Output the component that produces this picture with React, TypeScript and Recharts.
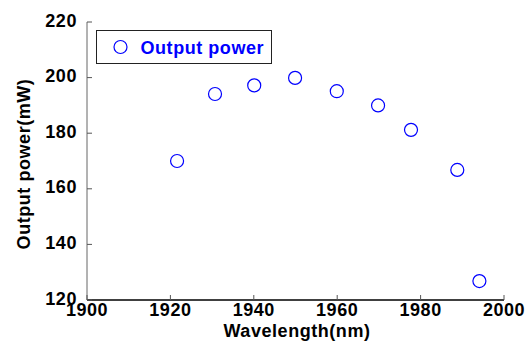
import { ScatterChart, Scatter, XAxis, YAxis, Legend, Label } from "recharts"

const wavelength = [1921.6, 1930.7, 1940.1, 1949.9, 1959.9, 1969.8, 1977.7, 1988.8, 1994.1]
const outputPower = [170, 194.1, 197.2, 199.9, 195.1, 190, 181.2, 166.8, 126.8]
const xTicks = [1900, 1920, 1940, 1960, 1980, 2000]
const yTicks = [120, 140, 160, 180, 200, 220]

const data = wavelength.map((w, i) => ({ w, p: outputPower[i] }))

const FONT = "'Liberation Sans', Arial, Helvetica, sans-serif"
const BLUE = "#0000ff"
const SPACING = 0.55

function BottomTick({ x, y, payload }: any) {
  return (
    <g>
      <line x1={x} y1={y} x2={x} y2={y - 5} stroke="#555" />
      <text
        x={x}
        y={y + 16}
        textAnchor="middle"
        fontSize={18}
        fontWeight="bold"
        fill="#000"
        fontFamily={FONT}
        letterSpacing={SPACING}
      >
        {payload.value}
      </text>
    </g>
  )
}

function LeftTick({ x, y, payload }: any) {
  return (
    <g>
      <line x1={x} y1={y} x2={x + 5} y2={y} stroke="#555" />
      <text
        x={x - 10}
        y={y + 4.5}
        textAnchor="end"
        fontSize={18}
        fontWeight="bold"
        fill="#000"
        fontFamily={FONT}
        letterSpacing={SPACING}
      >
        {payload.value}
      </text>
    </g>
  )
}

function TopTick({ x, y }: any) {
  return <line x1={x} y1={y} x2={x} y2={y + 5} stroke="#555" />
}

function RightTick({ x, y }: any) {
  return <line x1={x} y1={y} x2={x - 5} y2={y} stroke="#555" />
}

function Marker({ cx, cy }: any) {
  return <circle cx={cx} cy={cy} r={6.5} fill="none" stroke={BLUE} strokeWidth={1.2} />
}

function LegendBox() {
  return (
    <svg width={177} height={35} style={{ display: "block" }}>
      <rect x={0.5} y={0.5} width={175} height={33} fill="#fff" stroke="#222" />
      <circle cx={24.5} cy={17} r={6.5} fill="none" stroke={BLUE} strokeWidth={1.2} />
      <text
        x={44.5}
        y={24}
        fontSize={18}
        fontWeight="bold"
        fill={BLUE}
        fontFamily={FONT}
        letterSpacing={SPACING}
      >
        Output power
      </text>
    </svg>
  )
}

export default function App() {
  return (
    <div style={{ position: "absolute", left: 0, top: 0, background: "#fff" }}>
      <ScatterChart width={531} height={343} margin={{ top: 22, right: 27, left: 0, bottom: 0 }}>
        <XAxis
          xAxisId="bottom"
          dataKey="w"
          type="number"
          domain={[1900, 2000]}
          ticks={xTicks}
          height={43}
          tickSize={0}
          tickMargin={0}
          tickLine={false}
          tick={<BottomTick />}
          axisLine={{ stroke: "#000", strokeWidth: 1.3 }}
        >
          <Label
            content={({ viewBox }: any) => (
              <text
                x={viewBox.x + viewBox.width / 2 + 1.5}
                y={337}
                textAnchor="middle"
                fontSize={18}
                fontWeight="bold"
                fill="#000"
                fontFamily={FONT}
                letterSpacing={SPACING}
              >
                Wavelength(nm)
              </text>
            )}
          />
        </XAxis>
        <XAxis
          xAxisId="top"
          orientation="top"
          type="number"
          domain={[1900, 2000]}
          ticks={xTicks}
          height={0}
          tickSize={0}
          tickMargin={0}
          tickLine={false}
          tick={<TopTick />}
          axisLine={{ stroke: "#666" }}
        />
        <YAxis
          yAxisId="left"
          dataKey="p"
          type="number"
          domain={[120, 220]}
          ticks={yTicks}
          width={87}
          tickSize={0}
          tickMargin={0}
          tickLine={false}
          tick={<LeftTick />}
          axisLine={{ stroke: "#666" }}
        >
          <Label
            content={({ viewBox }: any) => {
              const cx = 30
              const cy = viewBox.y + viewBox.height / 2 + 3
              return (
                <text
                  x={cx}
                  y={cy}
                  transform={`rotate(-90, ${cx}, ${cy})`}
                  textAnchor="middle"
                  fontSize={18}
                  fontWeight="bold"
                  fill="#000"
                  fontFamily={FONT}
                  letterSpacing={SPACING}
                >
                  Output power(mW)
                </text>
              )
            }}
          />
        </YAxis>
        <YAxis
          yAxisId="right"
          orientation="right"
          type="number"
          domain={[120, 220]}
          ticks={yTicks}
          width={0}
          tickSize={0}
          tickMargin={0}
          tickLine={false}
          tick={<RightTick />}
          axisLine={{ stroke: "#666" }}
        />
        <Legend
          layout="vertical"
          align="center"
          verticalAlign="middle"
          content={() => <LegendBox />}
          wrapperStyle={{ left: 96, top: 30, width: 177 }}
        />
        <Scatter
          name="Output power"
          data={data}
          xAxisId="bottom"
          yAxisId="left"
          shape={<Marker />}
          isAnimationActive={false}
        />
      </ScatterChart>
    </div>
  )
}
